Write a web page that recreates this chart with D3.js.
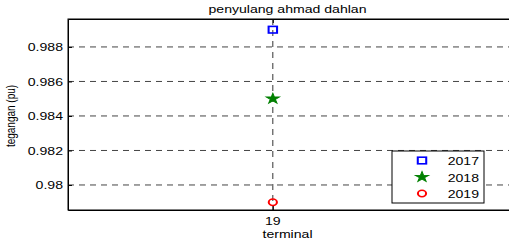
<!DOCTYPE html>
<html>
<head>
<meta charset="utf-8">
<script src="https://cdn.jsdelivr.net/npm/d3@7"></script>
<style>
body { margin: 0; background: #fff; }
text { font-family: "Liberation Sans", Arial, sans-serif; fill: #000; }
</style>
</head>
<body>
<div id="chart_id1"></div>
<script>
// data
const years = ["2017", "2018", "2019"]
const tegangan = [0.989, 0.985, 0.979]
const terminal = [19, 19, 19]
const y_ticks = [0.98, 0.982, 0.984, 0.986, 0.988]
const x_ticks = [19]
const marker_shape = ["square", "star", "circle"]
const marker_color = ["#0000ff", "#008000", "#ff0000"]

const W = 509, H = 242
const ax_left = 68, ax_right = 511, ax_top = 19, ax_bottom = 210
const stretch = 1.28   // the picture is a bit wider than tall

svg = d3.select("#chart_id1")
	.append("svg")
	.attr("width", W)
	.attr("height", H)

var x = d3.scaleLinear().domain([18.14, 20]).range([ax_left, ax_right])
var y = d3.scaleLinear().domain([0.97855, 0.98962]).range([ax_bottom, ax_top])

function stext(str, px, py, size, anchor, rot){
	var t = "translate(" + px + "," + py + ") scale(" + stretch + ",1)"
	if (rot) { t = t + " rotate(" + rot + ")" }
	svg.append("text")
		.attr("transform", t)
		.attr("font-size", size)
		.attr("text-anchor", anchor)
		.text(str)
}

// dashed grid
svg.selectAll(".ygrid").data(y_ticks).enter().append("line")
	.attr("class", "ygrid")
	.attr("x1", ax_left).attr("x2", ax_right)
	.attr("y1", d => y(d)).attr("y2", d => y(d))
	.attr("stroke", "#444")
	.attr("stroke-width", 1)
	.attr("stroke-dasharray", "6,5")
svg.selectAll(".xgrid").data(x_ticks).enter().append("line")
	.attr("class", "xgrid")
	.attr("x1", d => x(d)).attr("x2", d => x(d))
	.attr("y1", ax_top).attr("y2", ax_bottom)
	.attr("stroke", "#333")
	.attr("stroke-width", 1)
	.attr("stroke-dasharray", "6,5")

// axes box with inward ticks
var yAxis = d3.axisLeft(y).tickValues(y_ticks).tickSizeInner(-4).tickSizeOuter(0).tickFormat(d3.format("~g"))
var xAxis = d3.axisBottom(x).tickValues(x_ticks).tickSizeInner(-4).tickSizeOuter(0)
var gy = svg.append("g").attr("transform", "translate(" + ax_left + ",0)").call(yAxis)
var gx = svg.append("g").attr("transform", "translate(0," + ax_bottom + ")").call(xAxis)
svg.append("g").attr("transform", "translate(0," + ax_top + ")")
	.call(d3.axisTop(x).tickValues(x_ticks).tickSizeInner(-4).tickSizeOuter(0).tickFormat(""))
gy.selectAll("text").remove()
gx.selectAll("text").remove()
svg.selectAll(".domain").attr("stroke", "#000")
svg.selectAll(".tick line").attr("stroke", "#000")

y_ticks.forEach(function(d){ stext(d3.format("~g")(d), 63, y(d) + 4.5, 11, "end") })
x_ticks.forEach(function(d){ stext(String(d), x(d), 225, 11, "middle") })

svg.append("rect")
	.attr("x", ax_left).attr("y", ax_top)
	.attr("width", ax_right - ax_left).attr("height", ax_bottom - ax_top)
	.attr("fill", "none").attr("stroke", "#000").attr("stroke-width", 1)

// labels
stext("penyulang ahmad dahlan", (ax_left + 507) / 2, 13, 11, "middle")
stext("terminal", (ax_left + 507) / 2, 238, 11, "middle")
stext("tegangan (pu)", 15, 116, 10, "middle", -90)

// markers
function marker(g, shape, color){
	if (shape == "square"){
		g.append("rect").attr("x", -3.3).attr("y", -3.3).attr("width", 6.6).attr("height", 6.6)
			.attr("fill", "none").attr("stroke", color).attr("stroke-width", 1.6)
	} else if (shape == "circle"){
		g.append("circle").attr("r", 3.2)
			.attr("fill", "none").attr("stroke", color).attr("stroke-width", 1.6)
	} else {
		g.append("path").attr("d", d3.symbol(d3.symbolStar, 34)())
			.attr("fill", color).attr("stroke", color).attr("stroke-width", 0.8)
	}
}

years.forEach(function(yr, i){
	var g = svg.append("g")
		.attr("transform", "translate(" + x(terminal[i]) + "," + y(tegangan[i]) + ") scale(" + stretch + ",1)")
	marker(g, marker_shape[i], marker_color[i])
})

// legend
var lg_x = 392, lg_y = 151, lg_w = 92, lg_h = 52
svg.append("rect")
	.attr("x", lg_x).attr("y", lg_y).attr("width", lg_w).attr("height", lg_h)
	.attr("fill", "#fff").attr("stroke", "#000").attr("stroke-width", 1)
years.forEach(function(yr, i){
	var ry = lg_y + 9.5 + i * 16.5
	var g = svg.append("g").attr("transform", "translate(" + (lg_x + 30) + "," + ry + ") scale(" + stretch + ",1)")
	marker(g, marker_shape[i], marker_color[i])
	stext(yr, 479, ry + 4.5, 11, "end")
})
</script>
</body>
</html>
